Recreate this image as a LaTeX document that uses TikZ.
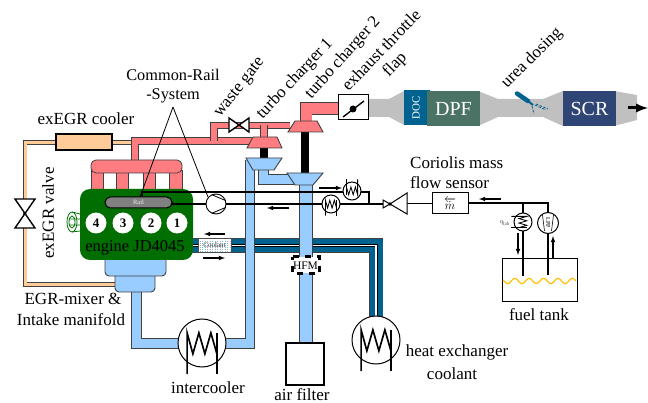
\documentclass[tikz,border=0pt]{standalone}
\usepackage{fontspec}
\setmainfont{Liberation Serif}
\definecolor{pred}{HTML}{FF7C80}
\definecolor{pblue}{HTML}{99CCFF}
\definecolor{porange}{HTML}{FFCC99}
\definecolor{pdark}{HTML}{00628F}
\definecolor{pgreen}{HTML}{006E00}
\definecolor{pdpf}{HTML}{4A7265}
\definecolor{pscr}{HTML}{2F4575}
\definecolor{pgray}{HTML}{C0C0C0}
\definecolor{pline}{HTML}{404040}
\definecolor{pwave}{HTML}{FFC000}
\tikzset{
  lbl/.style={font=\fontsize{17}{20}\selectfont,inner sep=0pt,align=center},
  wlbl/.style={lbl,text=white},
  fuel/.style={line width=1.7pt,draw=black},
  flow/.style={-latex,line width=1.1pt,draw=black},
  leader/.style={line width=0.8pt,draw=black},
  hxc/.style={circle,draw=black,fill=white,line width=1pt,inner sep=0pt},
  tip/.style={draw=pline,line width=0.9pt,line join=miter},
  bow/.style={draw=black,fill=white,line width=1.4pt,line join=miter},
}
% two-pass pipe: outline then core, so that junctions merge
\newcommand{\pipeline}[3]{%
  \draw[line width=#2pt+1.8pt,draw=pline,line join=miter] #3;
  \draw[line width=#2pt,draw=#1,line join=miter] #3;}
% heat-exchanger symbol; r=radius, rotated by angle
\newcommand{\hxsym}[4]{%
 \begin{scope}[shift={(#1,#2)},rotate=#4,x=#3 pt,y=-#3 pt]
  \draw[line width=#3*0.055pt+0.35pt,line join=miter]
    (-0.62,1.3)--(-0.62,-0.42)--(-0.38,0.45)--(-0.13,-0.42)--(0.12,0.45)--(0.37,-0.42)--(0.62,0.45);
  \draw[line width=#3*0.055pt+0.35pt] (0.62,-0.42)--(0.62,1.3);
 \end{scope}}
\begin{document}
\begin{tikzpicture}[x=1pt,y=-1pt]
\useasboundingbox (0,0) rectangle (648,403);

% exhaust gray
\fill[pgray] (365,99)--(389,99)--(404,91)--(404,125)--(389,117)--(365,117)--cycle;
\fill[pgray] (478,91)--(498,99)--(543,99)--(563,91)--(563,126)--(543,117)--(498,117)--(478,126)--cycle;
\fill[pgray] (614,91)--(637,95)--(637,120)--(614,126)--cycle;
\node[fill=pdark,minimum width=26,minimum height=35,inner sep=0pt] (doc) at (417,107.5) {};
\node[wlbl,font=\fontsize{11}{12}\selectfont,rotate=90] at (416,107.5) {DOC};
\node[fill=pdpf,minimum width=53,minimum height=35,inner sep=0pt,wlbl,font=\fontsize{20}{22}\selectfont] (dpf) at (453.5,108.5) {DPF};
\node[fill=pscr,minimum width=53,minimum height=35,inner sep=0pt,wlbl,font=\fontsize{20}{22}\selectfont] (scr) at (589.5,108.5) {SCR};
\coordinate (tailA) at (628,108);
\coordinate (tailB) at (648,108);
\draw[line width=3pt,-latex] (tailA)--(tailB);

% urea
\draw[pdark,line width=4.5pt,line cap=round] (517,93.5)--(528,101);
\draw[pdark,line width=2pt] (528,101)--(533,105);
\draw[pdark,line width=0.8pt,dash pattern=on 2.5pt off 1.5pt] (532,106)--(534,114);
\draw[pdark,line width=0.8pt,dash pattern=on 2.5pt off 1.5pt] (535,105)--(546,110);
\draw[pdark,line width=0.8pt,dash pattern=on 2.5pt off 1.5pt] (536,104)--(548,109);

% orange EGR pipe
\pipeline{porange}{3}{(132,142.5)--(25,142.5)--(25,284.5)--(116,284.5)}

% coolant
\draw[line width=14.5pt,draw=pline,line join=miter] (190,245.5)--(376,245.5)--(376,318);
\draw[line width=13pt,draw=pdark,line join=miter] (190,245.5)--(376,245.5)--(376,318);
\draw[line width=3pt,draw=black,line join=miter] (190,245.5)--(376,245.5)--(376,318);
\draw[line width=1.6pt,draw=white,line join=miter] (190,245.5)--(376,245.5)--(376,318);

% air pipes
\pipeline{pblue}{8.5}{(136.5,290)--(136.5,343.5)--(250,343.5)--(250,160)}
\pipeline{pblue}{9}{(263.5,168)--(263.5,179.5)--(296,179.5)}
\pipeline{pblue}{12.5}{(306,184)--(306,345)}

% red pipes
\pipeline{pred}{5.5}{(135,162)--(135,141)--(252,141)}
\pipeline{pred}{5.5}{(214,141)--(214,125.5)--(290,125.5)}
\pipeline{pred}{5.5}{(264,138)--(264,125.5)}
\pipeline{pred}{11}{(306,123)--(306,108.5)--(339,108.5)}

% shafts
\fill (260,147) rectangle (268,159);
\fill (301,131) rectangle (309,174);

% turbos
\draw[tip,fill=pred] (253,137)--(277,137)--(282,148)--(247,148)--cycle;
\draw[tip,fill=pred] (295,121)--(317,121)--(323,132)--(288,132)--cycle;
\draw[tip,fill=pblue] (246,158)--(282,158)--(274,170)--(253,170)--cycle;
\draw[tip,fill=pblue] (287,173)--(323,173)--(313,185)--(295,185)--cycle;
\coordinate (turbotwo) at (306,127);

% exhaust manifold and runners
\foreach \a/\b in {91/103,116/128,143/155,169/182}
  \draw[draw=pline,line width=0.8pt,fill=pred] (\a,170) rectangle (\b,191);
\draw[draw=pline,line width=0.8pt,fill=pred,rounded corners=5] (91,173)--(91,160)--(182,160)--(182,173)--cycle;

% intake
\draw[draw=pline,line width=0.9pt,fill=pblue,rounded corners=4] (115,270)--(115,292)--(155,292)--(155,270)--cycle;
\draw[draw=pline,line width=0.9pt,fill=pblue,rounded corners=4] (105,255)--(105,276)--(166,276)--(166,255)--cycle;

% engine
\node[fill=pgreen,rounded corners=10,minimum width=113,minimum height=71,inner sep=0pt] (engine) at (136.5,224.5) {};
\node[lbl,font=\fontsize{16.5}{18}\selectfont] (enginelabel) at (135,247.5) {engine JD4045};
\foreach \n/\x in {4/96,3/123,2/151,1/177}
  \node[circle,fill=white,minimum size=21,inner sep=0pt,font=\fontsize{13}{14}\bfseries\selectfont] (cyl\n) at (\x,223) {\n};
\node[draw=black,line width=1pt,fill=gray,rounded corners=5.4,minimum width=67,minimum height=11,inner sep=0pt,font=\fontsize{6.5}{7}\selectfont,text=white!85!gray] (rail) at (138.5,202.5) {Rail};
% swirl
\draw[pgreen,line width=0.8pt] (72,222) ellipse (5 and 10);
\draw[pgreen,line width=0.8pt] (72,222) ellipse (3 and 6);
\draw[pgreen,line width=0.8pt] (72,212)--(80,214) (72,232)--(80,231) (69,219)--(80,219) (69,225)--(80,225);

% coolant box
\node[draw=black!70,line width=0.9pt,fill=white,minimum width=33,minimum height=14,inner sep=0pt] (coolbox) at (214.5,245) {};
\begin{scope}
\clip (198.5,238.5) rectangle (230.5,251.5);
\draw[pdark!45,line width=0.4pt,dash pattern=on 1pt off 1pt] (198,240) grid[step=2.5] (232,252);
\end{scope}
\node[font=\fontsize{7}{8}\selectfont,text=black!80,inner sep=0pt] at (214.5,245.5) {Coolant};
\coordinate (cfa) at (225,234); \coordinate (cfb) at (204,234);
\coordinate (cga) at (203,258); \coordinate (cgb) at (225,258);
\draw[flow] (cfa)--(cfb);
\draw[flow] (cga)--(cgb);

% HFM
\node[fill=white,minimum width=27,minimum height=16,inner sep=0pt] (hfm) at (306,265) {};
\draw[line width=3pt,dash pattern=on 6pt off 6pt,dash phase=3pt] (hfm.north west) rectangle (hfm.south east);
\node[font=\fontsize{11.5}{12}\selectfont,inner sep=0pt] at (305.5,266) {HFM};

% air filter
\node[draw=black,line width=1.2pt,fill=white,minimum width=38,minimum height=42,inner sep=0pt] (filter) at (305,364) {};

% orange cooler and bow valve
\node[draw=black,line width=1.4pt,fill=porange,minimum width=56,minimum height=16,inner sep=0pt] (egrcooler) at (84,142) {};
\draw[bow] (15,199)--(35,199)--(15,228)--(35,228)--cycle;
\coordinate (egrvalve) at (25,213.5);
\draw[bow] (229,118)--(229,132)--(249,118)--(249,132)--cycle;
\coordinate (wastevalve) at (239,125);

% flap
\node[draw=black,line width=1pt,fill=white,minimum width=30,minimum height=25,inner sep=0pt] (flap) at (353,107.5) {};
\draw[line width=1.4pt] (343,117)--(364,101);
\fill (353,109) circle (3.5);

% heat exchangers
\node[hxc,minimum size=48] (intercooler) at (202,343) {};
\hxsym{202}{343}{24}{0}
\node[hxc,minimum size=48] (coolantex) at (376,340) {};
\hxsym{376}{340}{24}{0}

% fuel system
\coordinate (railup) at (142,192);
\coordinate (kneeA) at (369,192);
\coordinate (kneeB) at (369,204);
\coordinate (tee) at (523,203);
\coordinate (corner) at (548,203);
\coordinate (qend) at (523,276);
\coordinate (lend) at (548,275);
\draw[fuel] (rail.north west -| railup) -- (railup) -- (kneeA) -- (kneeB);
\draw[fuel] (rail.east) -- (172,204) -- (383,204);
\draw[fuel] (407,203.5) -- (432,203.5);
\draw[fuel] (468,203) -- (corner) -- (lend);
\draw[fuel] (tee) -- (qend);
\node[circle,draw=black,fill=white,line width=0.9pt,minimum size=20,inner sep=0pt] (pump) at (216,204) {};
\draw[line width=0.8pt] (212,194.8)--(225.5,200.5) (212,213.2)--(225.5,207.5);
\node[hxc,minimum size=18] (hxlow) at (331,204) {};
\hxsym{331}{204}{9}{0}
\node[hxc,minimum size=18] (hxup) at (352,191) {};
\hxsym{352}{191}{9}{180}
\node[hxc,minimum size=18] (hxq) at (523,222) {};
\hxsym{523}{222}{9}{-90}
\node[hxc,minimum size=21] (lpp) at (548,223) {};
\draw[line width=0.6pt] (542.5,215)--(544.5,231) (553.5,215)--(551.5,231);
\node[rotate=-90,font=\fontsize{6}{7}\selectfont,inner sep=0pt] at (548,223) {LPP};
\node[font=\fontsize{6}{7}\selectfont,text=black!70,inner sep=0pt] at (505,223) {q\textsubscript{lab}};
% check valve
\draw[line width=1pt,fill=white,line join=miter] (383,200)--(390,204)--(383,208)--cycle;
\draw[line width=1pt,fill=white,line join=miter] (390,204)--(407,193)--(407,214)--cycle;
\fill (390,204) circle (1.8);
\coordinate (cvalve) at (395,204);
\node[draw=black,line width=1pt,fill=white,minimum width=36,minimum height=21,inner sep=0pt,font=\fontsize{13}{14}\selectfont] (mbox) at (450,203.5) {$\overleftarrow{\dot m}$};

% flow arrows
\coordinate (fa1) at (319,188); \coordinate (fa2) at (342,188);
\coordinate (fb1) at (289,208); \coordinate (fb2) at (267,208);
\coordinate (fc1) at (501,199); \coordinate (fc2) at (479,199);
\coordinate (fd1) at (518,233); \coordinate (fd2) at (518,255);
\coordinate (fe1) at (553,258); \coordinate (fe2) at (553,236);
\draw[flow] (fa1)--(fa2);
\draw[flow] (fb1)--(fb2);
\draw[flow] (fc1)--(fc2);
\draw[flow] (fd1)--(fd2);
\draw[flow] (fe1)--(fe2);

% tank
\node[draw=black,line width=1pt,minimum width=75,minimum height=43,inner sep=0pt] (tank) at (539.5,280.5) {};
\draw[pwave,line width=1.2pt] plot[domain=503:576,samples=90,smooth] (\x,{281+2.6*sin(\x*25)});

% common rail leaders
\node[lbl,font=\fontsize{16.3}{19}\selectfont] (crlabel) at (173,86.5) {Common-Rail\\-System};
\coordinate (apex) at (173,107);
\draw[leader] (apex)--(140,197);
\draw[leader] (apex)--(208,197);

% labels
\node[lbl] (l1) at (86,119) {exEGR cooler};
\node[lbl,rotate=90] (l2) at (48,213) {exEGR valve};
\node[lbl,rotate=52] (l3) at (240,88) {waste gate};
\node[lbl,rotate=47] (l4) at (295,79) {turbo charger 1};
\node[lbl,rotate=48] (l5) at (343,58) {turbo charger 2};
\node[lbl,rotate=46,anchor=center] (l6) at (381,50) {exhaust throttle};
\node[lbl,rotate=46] (l6b) at (395,65) {flap};
\node[lbl,rotate=45] (l7) at (532,58) {urea dosing};
\node[lbl] (l8) at (73,299) {EGR-mixer \&};
\node[lbl] (l9) at (71,320) {Intake manifold};
\node[lbl] (l10) at (208,388) {intercooler};
\node[lbl] (l11) at (302,395) {air filter};
\node[lbl] (l12) at (457,352) {heat exchanger};
\node[lbl] (l13) at (452,374) {coolant};
\node[lbl] (l14) at (539,315) {fuel tank};
\node[lbl,align=left,anchor=west] (l15) at (410,173) {Coriolis mass\\flow sensor};
\end{tikzpicture}
\end{document}
